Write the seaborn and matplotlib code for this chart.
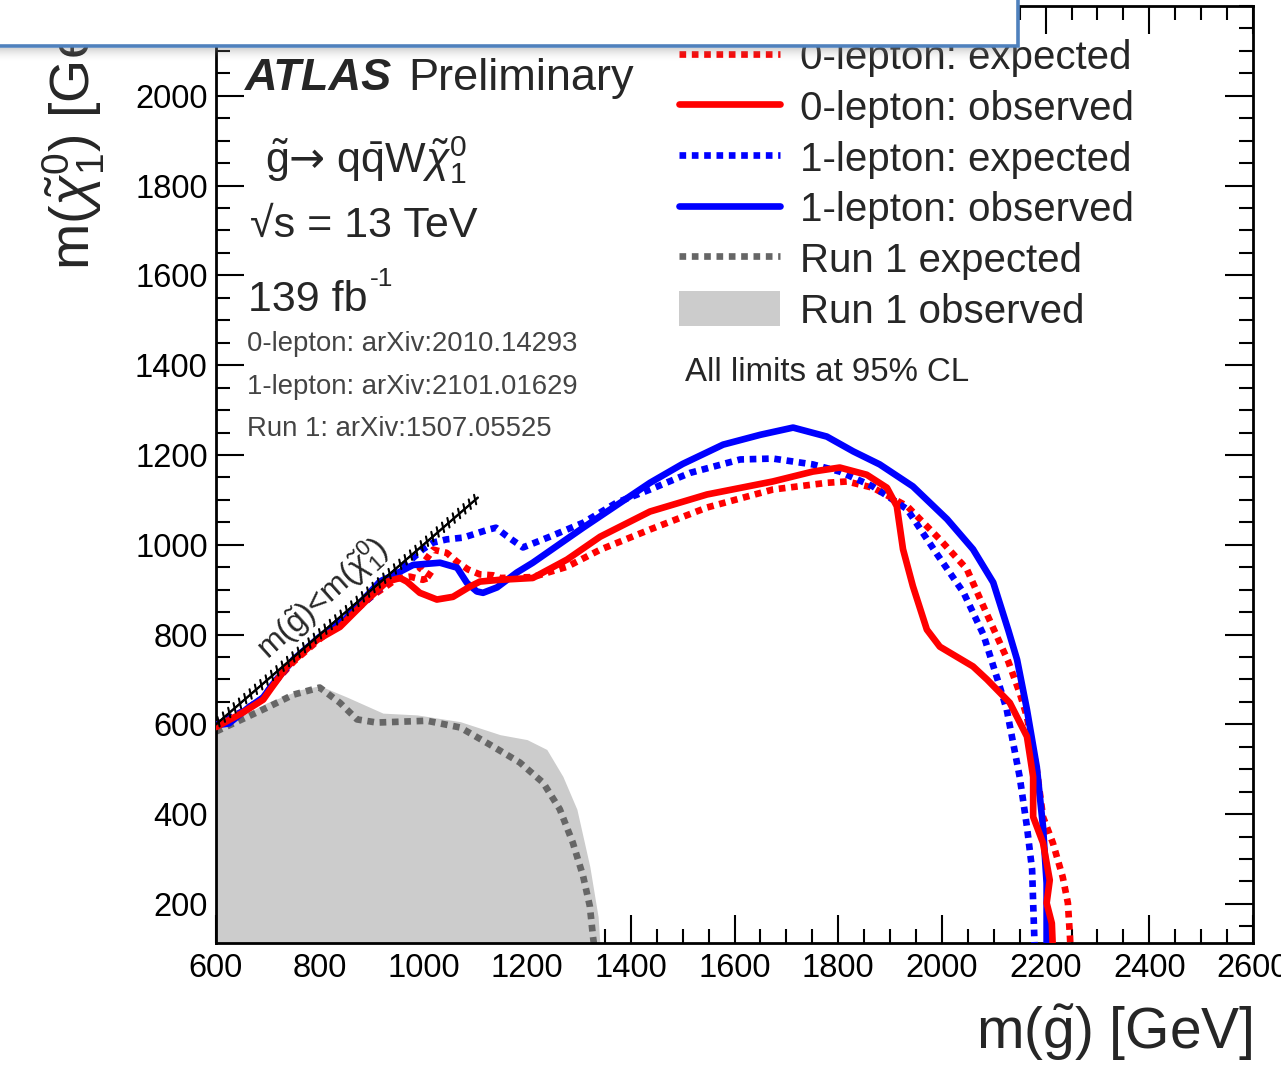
import numpy as np
import pandas as pd
import matplotlib
matplotlib.use("Agg")
import matplotlib.pyplot as plt
import seaborn as sns
from matplotlib import patheffects
from matplotlib.lines import Line2D
from matplotlib.patches import Patch, Rectangle
from matplotlib.ticker import MultipleLocator

# ---------------- data ----------------
obs0_x = [600, 650, 691, 705, 737, 795, 839, 891, 930, 955, 968, 993, 1026, 1057, 1090, 1109, 1148,
          1211, 1277, 1341, 1437, 1547, 1674, 1751, 1803, 1855, 1894, 1913, 1925, 1944, 1971, 1996,
          2060, 2087, 2131, 2164, 2176, 2176, 2195, 2208, 2202, 2212, 2214]
obs0_y = [594, 625, 655, 678, 729, 788, 817, 877, 918, 926, 918, 893, 878, 884, 907, 918, 922,
          926, 967, 1018, 1074, 1112, 1141, 1163, 1172, 1156, 1127, 1086, 990, 908, 811, 773,
          729, 700, 648, 573, 483, 394, 336, 253, 202, 157, 100]

exp0_x = [600, 650, 691, 710, 750, 800, 850, 900, 950, 974, 999, 1017, 993, 1019, 1045, 1065, 1086,
          1109, 1134, 1148, 1211, 1277, 1341, 1437, 1547, 1674, 1778, 1817, 1867, 1933, 1996, 2048,
          2087, 2128, 2150, 2164, 2183, 2195, 2214, 2233, 2243, 2247, 2248]
exp0_y = [598, 628, 658, 690, 740, 790, 835, 885, 925, 929, 922, 929, 948, 989, 982, 962, 945,
          934, 932, 926, 928, 951, 989, 1034, 1083, 1123, 1138, 1141, 1127, 1086, 1012, 946,
          845, 740, 670, 617, 499, 394, 336, 260, 202, 127, 100]

obs1_x = [600, 625, 660, 691, 710, 750, 800, 850, 916, 955, 980, 1032, 1065, 1084, 1103, 1115, 1142,
          1180, 1211, 1308, 1437, 1500, 1578, 1650, 1713, 1778, 1829, 1880, 1944, 2010, 2060, 2099,
          2128, 2145, 2164, 2183, 2195, 2202, 2202]
obs1_y = [598, 602, 635, 660, 690, 745, 795, 835, 918, 940, 955, 960, 949, 915, 896, 893, 905,
          938, 960, 1038, 1138, 1180, 1223, 1245, 1261, 1241, 1208, 1179, 1130, 1057, 990, 916,
          810, 744, 633, 505, 372, 246, 100]

exp1_x = [600, 650, 691, 710, 750, 800, 850, 900, 950, 999, 1019, 1045, 1077, 1123, 1140, 1160, 1192,
          1244, 1308, 1373, 1437, 1514, 1611, 1674, 1751, 1803, 1867, 1933, 1990, 2042, 2080, 2110,
          2125, 2150, 2164, 2174, 2176, 2179]
exp1_y = [598, 628, 658, 690, 745, 793, 838, 885, 940, 990, 1005, 1012, 1016, 1033, 1038, 1020, 994,
          1018, 1049, 1094, 1123, 1160, 1190, 1192, 1179, 1163, 1130, 1079, 980, 893, 800, 690,
          633, 483, 372, 276, 202, 100]

run1_obs_x = [600, 698, 762, 800, 852, 922, 988, 1071, 1148, 1200, 1238, 1269, 1296, 1321, 1337, 1341]
run1_obs_y = [588, 648, 677, 686, 661, 625, 621, 606, 577, 566, 544, 484, 411, 283, 171, 100]

run1_exp_x = [600, 698, 749, 800, 839, 872, 910, 1007, 1071, 1128, 1186, 1231, 1263, 1288, 1308, 1321,
              1327, 1330]
run1_exp_y = [584, 637, 666, 682, 648, 611, 604, 608, 593, 555, 515, 470, 411, 337, 262, 195,
              128, 100]

diag_x = [600, 1105]
diag_y = [600, 1105]

legend_labels = ["0-lepton: expected", "0-lepton: observed", "1-lepton: expected",
                 "1-lepton: observed", "Run 1 expected", "Run 1 observed"]
x_ticks = [600, 800, 1000, 1200, 1400, 1600, 1800, 2000, 2200, 2400, 2600]
y_ticks = [200, 400, 600, 800, 1000, 1200, 1400, 1600, 1800, 2000]

# ---------------- style ----------------
sns.set_theme(style="ticks")
plt.rcParams["font.family"] = ["Liberation Sans", "DejaVu Sans"]
plt.rcParams["mathtext.fontset"] = "custom"
plt.rcParams["mathtext.rm"] = "Liberation Sans"
plt.rcParams["mathtext.it"] = "Liberation Sans:italic"
plt.rcParams["mathtext.bf"] = "Liberation Sans:bold"
plt.rcParams["mathtext.sf"] = "DejaVu Sans"

W, H = 1281, 1066
fig = plt.figure(figsize=(W / 100, H / 100), dpi=100)
fig.patch.set_facecolor("white")
L, R, T, B = 216, 1253, 6, 943
ax = fig.add_axes([L / W, 1 - B / H, (R - L) / W, (B - T) / H])
ax.set_facecolor("white")


def fx(px):
    return px / W


def fy(py):
    return 1 - py / H


RED, BLUE, GREY = "#ff0000", "#0000ff", "#666666"
DOT = (0, (1.0, 0.85))
LW = 4.8

# Run 1 observed fill
ax.fill_between(run1_obs_x, 0, run1_obs_y, color="#cccccc", lw=0, zorder=1)
# Run 1 expected
sns.lineplot(x=run1_exp_x, y=run1_exp_y, sort=False, estimator=None, ax=ax, color=GREY,
             lw=LW, linestyle=DOT, dash_capstyle="butt", zorder=2)

# contours
for xs, ys, col, ls in [(exp0_x, exp0_y, RED, DOT), (exp1_x, exp1_y, BLUE, DOT),
                        (obs1_x, obs1_y, BLUE, "-"), (obs0_x, obs0_y, RED, "-")]:
    kw = dict(dash_capstyle="butt") if ls != "-" else dict(solid_capstyle="round",
                                                           solid_joinstyle="round")
    sns.lineplot(x=xs, y=ys, sort=False, estimator=None, ax=ax, color=col, lw=LW,
                 linestyle=ls, zorder=3, **kw)

# kinematic boundary (hatched, ticks only)
dl, = ax.plot(diag_x, diag_y, color="black", lw=1.5, zorder=4)
dl.set_path_effects([patheffects.withTickedStroke(angle=62, spacing=5.0, length=0.75),
                     patheffects.withTickedStroke(angle=-118, spacing=5.0, length=0.65)])

ax.set_xlim(600, 2600)
ax.set_ylim(113, 2200)
ax.set_xticks(x_ticks)
ax.set_yticks(y_ticks)
ax.set_xticklabels([str(v) for v in x_ticks])
ax.set_yticklabels([str(v) for v in y_ticks])
ax.xaxis.set_minor_locator(MultipleLocator(50))
ax.yaxis.set_minor_locator(MultipleLocator(50))
ax.tick_params(which="both", direction="in", top=True, right=True, width=1.5, color="black",
               labelsize=23.5, labelcolor="black")
ax.tick_params(which="major", length=20)
ax.tick_params(which="minor", length=10)
ax.tick_params(axis="x", pad=7)
ax.tick_params(axis="y", pad=6)
for s in ax.spines.values():
    s.set_linewidth(2)
    s.set_color("black")
    s.set_visible(True)

ax.set_xlabel(r"m($\tilde{\mathrm{g}}$) [GeV]", fontsize=41, ha="right", va="center")
ax.xaxis.set_label_coords(1.0, (B - 1033) / (B - T))
ax.set_ylabel(r"m($\tilde{\chi}^{0}_{1}$) [GeV]", fontsize=40, ha="left", va="center")
ax.yaxis.set_label_coords((74 - L) / (R - L), (B - 270) / (B - T))

# legend
handles = [Line2D([], [], color=RED, lw=LW, linestyle=DOT, dash_capstyle="butt"),
           Line2D([], [], color=RED, lw=LW),
           Line2D([], [], color=BLUE, lw=LW, linestyle=DOT, dash_capstyle="butt"),
           Line2D([], [], color=BLUE, lw=LW),
           Line2D([], [], color=GREY, lw=LW, linestyle=DOT, dash_capstyle="butt"),
           Patch(facecolor="#cccccc", edgecolor="none")]
leg = ax.legend(handles, legend_labels, loc="upper left", bbox_to_anchor=(fx(679), fy(38)),
                bbox_transform=fig.transFigure, frameon=False, fontsize=29, borderpad=0,
                borderaxespad=0, handlelength=2.5, handleheight=0.95, handletextpad=0.5,
                labelspacing=0.285)

# annotation texts
fig.text(fx(245), fy(90), "ATLAS", fontsize=32.5, fontweight="bold", fontstyle="italic",
         va="baseline", ha="left")
fig.text(fx(408), fy(90), "Preliminary", fontsize=32.5, va="baseline", ha="left")
fig.text(fx(265), fy(173),
         "$\\tilde{\\mathrm{g}}\\mathsf{\u2192}$ q$\\bar{\\mathrm{q}}$W$\\tilde{\\chi}^{0}_{1}$",
         fontsize=31, va="baseline", ha="left")
fig.text(fx(250), fy(237), "\u221as = 13 TeV", fontsize=31, va="baseline", ha="left")
fig.text(fx(248), fy(311), "139 fb", fontsize=31, va="baseline", ha="left")
fig.text(fx(370), fy(286), "-1", fontsize=19, va="baseline", ha="left")
for txt, yy in [("0-lepton: arXiv:2010.14293", 344), ("1-lepton: arXiv:2101.01629", 387),
                ("Run 1: arXiv:1507.05525", 429)]:
    fig.text(fx(247), fy(yy), txt, fontsize=19.8, color="#444444", va="center", ha="left")
fig.text(fx(685), fy(372), "All limits at 95% CL", fontsize=23.8, va="center", ha="left")
fig.text(fx(322), fy(598), r"m($\tilde{\mathrm{g}}$)<m($\tilde{\chi}^{0}_{1}$)", fontsize=23,
         rotation=42, va="center", ha="center", rotation_mode="anchor")

# overlay box from the screenshot (top-left)
for i in range(14):
    fig.add_artist(Rectangle((0, fy(48 + i + 1)), fx(1018), 1 / H, transform=fig.transFigure,
                             facecolor="#888888", edgecolor="none", alpha=0.35 * (1 - i / 14) ** 2,
                             zorder=9))
fig.add_artist(Rectangle((fx(-10), fy(46)), fx(1028), 60 / H, transform=fig.transFigure,
                         facecolor="white", edgecolor="#4f81bd", lw=2.6, zorder=10))

fig.savefig("out.png", dpi=100)
